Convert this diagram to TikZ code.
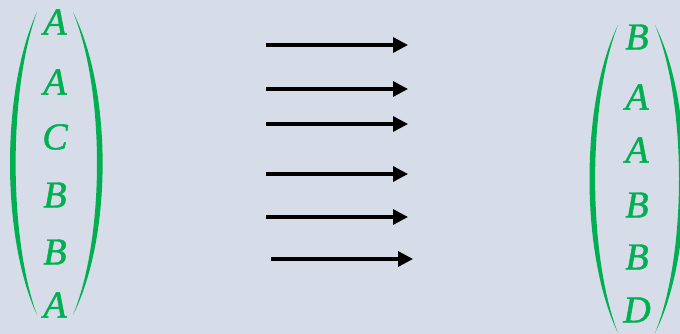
\documentclass[tikz,border=0pt]{standalone}
\usepackage{fontspec}
\setmainfont{Liberation Serif}
\newfontfamily\vecfont[FakeBold=1.2,Scale=1.0]{Liberation Serif}
\usepackage{tikz}
\usetikzlibrary{arrows.meta}
\definecolor{vecgreen}{RGB}{0,176,80}
\definecolor{paper}{RGB}{214,221,233}

\begin{document}
\begin{tikzpicture}[
    x=1pt, y=-1pt,
    letter/.style={text=vecgreen, inner sep=0pt, font=\vecfont\fontsize{38}{42}\selectfont\itshape},
    paren/.style={fill=vecgreen, draw=none},
    arrow/.style={-{Triangle[length=15pt,width=15pt]}, line width=3.3pt}
]
    % Background
    \fill[paper] (0,0) rectangle (680,334);
    \useasboundingbox (0,0) rectangle (680,334);
    \clip (0,0) rectangle (680,334);

    % Left vector
    \node[letter] (l1) at (55,22) {A};
    \node[letter] (l2) at (55,82) {A};
    \node[letter] (l3) at (55,137) {C};
    \node[letter] (l4) at (55,195) {B};
    \node[letter] (l5) at (55,252) {B};
    \node[letter] (l6) at (55,305) {A};
    \fill[paren] (37,12) .. controls (1,90) and (1,237) .. (37,315)
        .. controls (8.5,237) and (8.5,90) .. (37,12);
    \fill[paren] (73,12) .. controls (112.5,90) and (112.5,237) .. (73,315)
        .. controls (105,237) and (105,90) .. (73,12);

    % Right vector
    \node[letter] (r1) at (637,37) {B};
    \node[letter] (r2) at (637,97) {A};
    \node[letter] (r3) at (637,150) {A};
    \node[letter] (r4) at (637,205) {B};
    \node[letter] (r5) at (637,257) {B};
    \node[letter] (r6) at (637,310) {D};
    \fill[paren] (618,25) .. controls (580,103) and (580,255) .. (618,333)
        .. controls (587.5,255) and (587.5,103) .. (618,25);
    \fill[paren] (655,25) .. controls (694.5,103) and (694.5,255) .. (655,333)
        .. controls (687,255) and (687,103) .. (655,25);

    % Arrows
    \coordinate (s1) at (266,45);  \coordinate (e1) at (408,45);
    \coordinate (s2) at (266,89);  \coordinate (e2) at (408,89);
    \coordinate (s3) at (266,124); \coordinate (e3) at (408,124);
    \coordinate (s4) at (266,174); \coordinate (e4) at (408,174);
    \coordinate (s5) at (266,217); \coordinate (e5) at (408,217);
    \coordinate (s6) at (271,259); \coordinate (e6) at (413,259);
    \draw[arrow] (s1) -- (e1);
    \draw[arrow] (s2) -- (e2);
    \draw[arrow] (s3) -- (e3);
    \draw[arrow] (s4) -- (e4);
    \draw[arrow] (s5) -- (e5);
    \draw[arrow] (s6) -- (e6);

\end{tikzpicture}
\end{document}
